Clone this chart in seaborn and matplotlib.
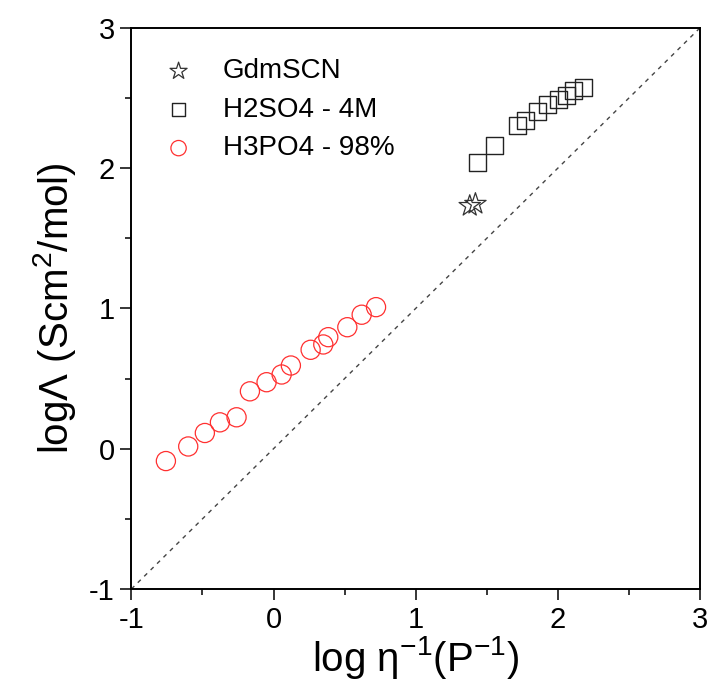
import matplotlib
matplotlib.use("Agg")
import matplotlib.pyplot as plt
import seaborn as sns
import numpy as np
import pandas as pd
from matplotlib.ticker import MultipleLocator

# Data
gdm_x = [1.38, 1.42]
gdm_y = [1.73, 1.745]

h2so4_x = [1.436, 1.556, 1.713, 1.769, 1.856, 1.927, 2.002, 2.061, 2.113, 2.179]
h2so4_y = [2.043, 2.162, 2.302, 2.336, 2.402, 2.450, 2.486, 2.521, 2.550, 2.576]

h3po4_x = [-0.757, -0.600, -0.483, -0.377, -0.260, -0.166, -0.049, 0.057, 0.122,
           0.261, 0.350, 0.385, 0.519, 0.620, 0.721]
h3po4_y = [-0.088, 0.016, 0.112, 0.188, 0.224, 0.409, 0.474, 0.529, 0.593,
           0.705, 0.743, 0.795, 0.866, 0.955, 1.009]

labels = ["GdmSCN", "H2SO4 - 4M", "H3PO4 - 98%"]
ref_line = [-1, 3]

sns.set_theme(style="white")
plt.rcParams['font.family'] = ['Liberation Sans', 'DejaVu Sans']
plt.rcParams['axes.unicode_minus'] = False
plt.rcParams['text.color'] = 'black'
plt.rcParams['axes.labelcolor'] = 'black'
plt.rcParams['xtick.color'] = 'black'
plt.rcParams['ytick.color'] = 'black'

fig = plt.figure(figsize=(7.1, 6.95), dpi=100)
ax = fig.add_axes([0.185, 0.1525, 0.801, 0.8075])

sns.lineplot(x=ref_line, y=ref_line, ax=ax, color="#444444", linestyle=(0, (3, 3.5)),
             linewidth=1.0, zorder=1)

sns.scatterplot(x=gdm_x, y=gdm_y, ax=ax, marker="*", s=260, facecolor="none",
                edgecolor="#333333", linewidth=0.9, label=labels[0], zorder=3)
sns.scatterplot(x=h2so4_x, y=h2so4_y, ax=ax, marker="s", s=150, facecolor="none",
                edgecolor="#222222", linewidth=1.0, label=labels[1], zorder=3)
sns.scatterplot(x=h3po4_x, y=h3po4_y, ax=ax, marker="o", s=190, facecolor="none",
                edgecolor="#ff3030", linewidth=0.9, label=labels[2], zorder=3)

ax.set_xlim(-1, 3)
ax.set_ylim(-1, 3)
ax.xaxis.set_major_locator(MultipleLocator(1))
ax.yaxis.set_major_locator(MultipleLocator(1))
ax.xaxis.set_minor_locator(MultipleLocator(0.5))
ax.yaxis.set_minor_locator(MultipleLocator(0.5))
ax.tick_params(which="major", direction="out", length=8, width=1.1, labelsize=21,
               bottom=True, left=True, top=False, right=False, pad=4)
ax.tick_params(which="minor", direction="out", length=4.5, width=1.1,
               bottom=True, left=True, top=False, right=False)
for sp in ax.spines.values():
    sp.set_linewidth(1.4)
    sp.set_color("black")

ax.set_xlabel(r"log η$^{\mathregular{-1}}$(P$^{\mathregular{-1}}$)", fontsize=29, labelpad=0)
ax.set_ylabel(r"logΛ (Scm$^{\mathregular{2}}$/mol)", fontsize=29, labelpad=8)

leg = ax.legend(loc="upper left", frameon=False, fontsize=20, markerscale=0.8,
                handletextpad=0.8, labelspacing=0.45, borderaxespad=0.5,
                handlelength=1.6, bbox_to_anchor=(0.0, 0.99))

fig.savefig("out.png", dpi=100)
